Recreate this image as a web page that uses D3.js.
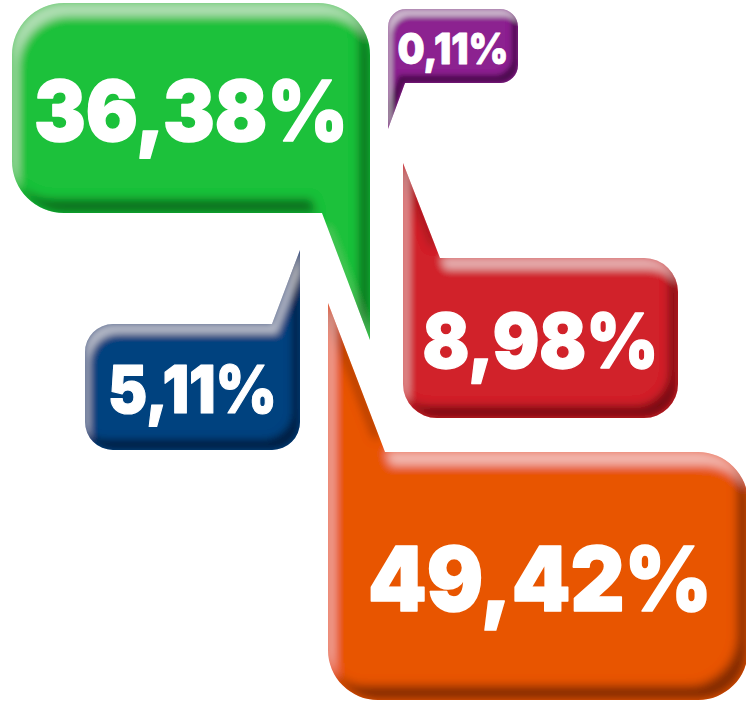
<!DOCTYPE html>
<html>
<head>
<meta charset="utf-8">
<script src="https://cdn.jsdelivr.net/npm/d3@7"></script>
<style>
  html, body { margin: 0; padding: 0; background: #fff; }
  svg { display: block; }
</style>
</head>
<body>
<svg id="chart" width="746" height="703"></svg>
<script>
/* global d3 */

// shares
const labels = ['36,38%', '0,11%', '8,98%', '5,11%', '49,42%'];
const values = [36.38, 0.11, 8.98, 5.11, 49.42];
const colors = ['#1cc13a', '#8c2190', '#d1232b', '#02437f', '#e85404'];

// bubble boxes: [x0, y0, x1, y1], corner radius, corner that becomes the tail
const layout = [
  { box: [12, 3, 370, 213], r: 52, corner: 'br', base: 48, tipY: 340, cap: 61, textW: 314, bevel: 12 },
  { box: [388, 9, 518, 83], r: 18, corner: 'bl', base: 17, tipY: 129, cap: 31, textW: 111, bevel: 7 },
  { box: [403, 258, 678, 418], r: 34, corner: 'tl', base: 37, tipY: 163, cap: 55, textW: 236, bevel: 10 },
  { box: [85, 324, 300, 450], r: 28, corner: 'tr', base: 28, tipY: 250, cap: 48, textW: 169, bevel: 9 },
  { box: [328, 452, 748, 700], r: 50, corner: 'tl', base: 57, tipY: 303, cap: 65, textW: 344, bevel: 12 },
];

const svg = d3.select('#chart');
const defs = svg.append('defs');

function bubblePath(l) {
  const [x0, y0, x1, y1] = l.box;
  const { r, corner, base, tipY } = l;
  const p = d3.path();
  if (corner === 'tl') {
    p.moveTo(x0, tipY);
    p.lineTo(x0 + base, y0);
  } else {
    p.moveTo(x0, y0 + r);
    p.arcTo(x0, y0, x1, y0, r);
  }
  if (corner === 'tr') {
    p.lineTo(x1 - base, y0);
    p.lineTo(x1, tipY);
  } else {
    p.arcTo(x1, y0, x1, y1, r);
  }
  if (corner === 'br') {
    p.lineTo(x1, tipY);
    p.lineTo(x1 - base, y1);
  } else {
    p.arcTo(x1, y1, x0, y1, r);
  }
  if (corner === 'bl') {
    p.lineTo(x0 + base, y1);
    p.lineTo(x0, tipY);
  } else {
    p.arcTo(x0, y1, x0, y0, r);
  }
  p.closePath();
  return p.toString();
}

// bevel: soft light band top/left, dark band bottom/right, clipped to the shape
function addBevel(id, w) {
  const f = defs.append('filter').attr('id', id)
    .attr('x', '-10%').attr('y', '-10%').attr('width', '120%').attr('height', '120%');
  const band = (dx, dy, blur, color, op, name) => {
    f.append('feOffset').attr('in', 'SourceAlpha').attr('dx', dx).attr('dy', dy).attr('result', `${name}Off`);
    f.append('feComposite').attr('in', 'SourceAlpha').attr('in2', `${name}Off`).attr('operator', 'out').attr('result', `${name}Band`);
    f.append('feGaussianBlur').attr('in', `${name}Band`).attr('stdDeviation', blur).attr('result', `${name}Soft`);
    f.append('feComposite').attr('in', `${name}Soft`).attr('in2', 'SourceAlpha').attr('operator', 'in').attr('result', `${name}Clip`);
    f.append('feFlood').attr('flood-color', color).attr('flood-opacity', op);
    f.append('feComposite').attr('in2', `${name}Clip`).attr('operator', 'in').attr('result', name);
  };
  band(-w * 0.9, -w * 1.2, w * 0.4, '#000', 0.72, 'dark');
  band(w * 0.5, w * 1.1, w * 0.4, '#fff', 0.45, 'light');
  const m = f.append('feMerge');
  m.append('feMergeNode').attr('in', 'SourceGraphic');
  m.append('feMergeNode').attr('in', 'dark');
  m.append('feMergeNode').attr('in', 'light');
}

const items = values.map((v, i) => ({ value: v, label: labels[i], color: colors[i], l: layout[i], i }));

// draw order so overlapping tails look like the picture
const order = [3, 4, 2, 0, 1];

const g = svg.selectAll('g.bubble')
  .data(order.map((k) => items[k]))
  .join('g')
  .attr('class', 'bubble');

g.each((d) => addBevel(`bevel${d.i}`, d.l.bevel));

g.append('path')
  .attr('d', (d) => bubblePath(d.l))
  .attr('fill', (d) => d.color)
  .attr('filter', (d) => `url(#bevel${d.i})`);

g.append('text')
  .attr('x', (d) => (d.l.box[0] + Math.min(d.l.box[2], 746)) / 2 + (d.i === 4 ? 3 : 0))
  .attr('y', (d) => (d.l.box[1] + d.l.box[3]) / 2 + d.l.cap / 2 + 2)
  .attr('text-anchor', 'middle')
  .attr('font-family', 'Inter, "DejaVu Sans", sans-serif')
  .attr('font-weight', 900)
  .attr('font-size', (d) => d.l.cap / 0.727)
  .attr('textLength', (d) => d.l.textW)
  .attr('lengthAdjust', 'spacingAndGlyphs')
  .attr('fill', '#fff')
  .attr('stroke', '#fff')
  .attr('stroke-width', (d) => d.l.cap / 40)
  .attr('stroke-linejoin', 'round')
  .text((d) => d.label);
</script>
</body>
</html>
